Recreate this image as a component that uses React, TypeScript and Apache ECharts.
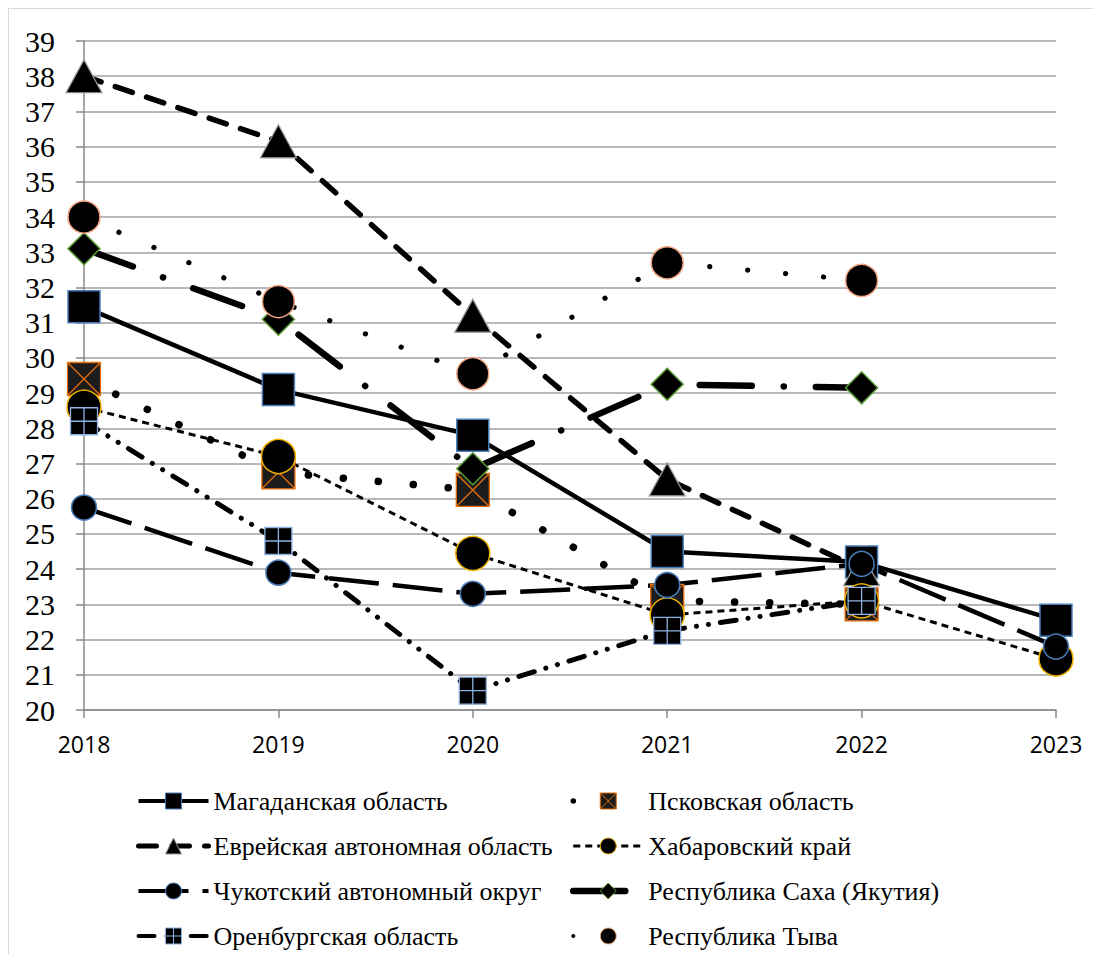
import React, { useEffect, useRef } from "react";
import * as echarts from "echarts";

const years = ["2018", "2019", "2020", "2021", "2022", "2023"];
const yTicks = { min: 20, max: 39, step: 1 };

const magadan = [31.45, 29.1, 27.8, 24.5, 24.2, 22.55];
const pskov = [29.4, 26.75, 26.25, 23.1, 23.0, null];
const evrei = [38.0, 36.15, 31.2, 26.55, 24.0, null];
const khabarovsk = [28.6, 27.2, 24.45, 22.7, 23.1, 21.45];
const chukotka = [25.75, 23.9, 23.3, 23.55, 24.15, 21.8];
const saha = [33.1, 31.1, 26.85, 29.25, 29.15, null];
const orenburg = [28.2, 24.8, 20.55, 22.25, 23.1, null];
const tyva = [34.0, 31.6, 29.55, 32.7, 32.2, null];

const names = {
  magadan: "Магаданская область",
  pskov: "Псковская область",
  evrei: "Еврейская автономная область",
  khabarovsk: "Хабаровский край",
  chukotka: "Чукотский автономный округ",
  saha: "Республика Саха (Якутия)",
  orenburg: "Оренбургская область",
  tyva: "Республика Тыва",
};

const SQUARE_X = "path://M0,0L10,0L10,10L0,10Z M0,0L10,10 M10,0L0,10";
const SQUARE_PLUS = "path://M0,0L10,0L10,10L0,10Z M5,0L5,10 M0,5L10,5";

function mk(name: string, data: (number | null)[], o: any) {
  return {
    name,
    type: "line",
    data,
    symbol: o.symbol,
    symbolSize: o.size,
    showSymbol: true,
    showAllSymbol: true,
    lineStyle: { color: "#000", width: o.width, type: o.dash, cap: o.cap || "butt", join: "round" },
    itemStyle: { color: o.fill || "#000", borderColor: o.border, borderWidth: o.bw || 1.5 },
    emphasis: { disabled: true },
  };
}

export default function App() {
  const ref = useRef<HTMLDivElement>(null);
  useEffect(() => {
    if (!ref.current) return;
    const chart = echarts.init(ref.current, null, { renderer: "svg" });
    const series = [
      mk(names.magadan, magadan, { symbol: "rect", size: 32, width: 4.5, dash: "solid", border: "#4a7ebb" }),
      mk(names.pskov, pskov, { symbol: SQUARE_X, size: 33, width: 7.5, dash: [0.1, 35], cap: "round", fill: "#1c1c1c", border: "#e46c0a", bw: 1.3 }),
      mk(names.evrei, evrei, { symbol: "triangle", size: [36, 33], width: 5.5, dash: [18, 15], cap: "round", border: "#9a9a9a", bw: 1.2 }),
      mk(names.khabarovsk, khabarovsk, { symbol: "circle", size: 34, width: 3, dash: [7, 5], border: "#f0b000" }),
      mk(names.chukotka, chukotka, { symbol: "circle", size: 25, width: 4.5, dash: [50, 14], border: "#4a7ebb" }),
      mk(names.saha, saha, { symbol: "diamond", size: 32, width: 6.5, dash: [52, 32, 0.1, 32], cap: "round", border: "#5a9a35" }),
      mk(names.orenburg, orenburg, { symbol: SQUARE_PLUS, size: 27, width: 5, dash: [16, 12, 0.1, 12, 0.1, 12], cap: "round", border: "#8db3e2", bw: 1.3 }),
      mk(names.tyva, tyva, { symbol: "circle", size: 32, width: 5.2, dash: [0.1, 38], cap: "round", border: "#f4a582" }),
    ];
    const legendCommon = {
      orient: "vertical",
      top: 779,
      height: 166,
      padding: 0,
      itemWidth: 70,
      itemHeight: 20,
      itemGap: 19,
      selectedMode: false,
      textStyle: { fontFamily: "Liberation Serif", fontSize: 26, color: "#000", lineHeight: 26 },
    };
    chart.setOption({
      animation: false,
      backgroundColor: "#fff",
      grid: { left: 75, top: 32, width: 972, height: 669 },
      xAxis: {
        type: "category",
        data: years,
        boundaryGap: false,
        axisLine: { lineStyle: { color: "#888", width: 1.5 } },
        axisTick: { show: true, length: 8, lineStyle: { color: "#888", width: 1.5 } },
        axisLabel: { fontFamily: "Open Sans", fontSize: 23, color: "#000", margin: 22 },
        splitLine: { show: false },
      },
      yAxis: {
        type: "value",
        min: yTicks.min,
        max: yTicks.max,
        interval: yTicks.step,
        axisLine: { show: true, lineStyle: { color: "#888", width: 1.5 } },
        axisTick: { show: true, length: 8, lineStyle: { color: "#888", width: 1.5 } },
        axisLabel: { fontFamily: "Liberation Serif", fontSize: 30, color: "#000", margin: 29 },
        splitLine: { lineStyle: { color: "#a0a0a0", width: 1.5 } },
      },
      legend: [
        {
          ...legendCommon,
          left: 127,
          data: [
            { name: names.magadan, lineStyle: { width: 4 }, itemStyle: { borderWidth: 1 } },
            { name: names.evrei, lineStyle: { width: 5 }, itemStyle: { borderWidth: 1 } },
            { name: names.chukotka, lineStyle: { width: 4 }, itemStyle: { borderWidth: 1 } },
            { name: names.orenburg, lineStyle: { width: 4 }, itemStyle: { borderWidth: 1 } },
          ],
        },
        {
          ...legendCommon,
          left: 561,
          data: [
            { name: names.pskov, lineStyle: { width: 5.5 }, itemStyle: { borderWidth: 1 } },
            { name: names.khabarovsk, lineStyle: { width: 3 }, itemStyle: { borderWidth: 1 } },
            { name: names.saha, lineStyle: { width: 6.5 }, itemStyle: { borderWidth: 1 } },
            { name: names.tyva, lineStyle: { width: 4 }, itemStyle: { borderWidth: 1 } },
          ],
        },
      ],
      series,
    });
    return () => chart.dispose();
  }, []);
  return (
    <div style={{ width: 1092, height: 946, borderTop: "1px solid #d9d9d9", borderLeft: "1px solid #d9d9d9", boxSizing: "border-box" }}>
      <div ref={ref} style={{ width: 1091, height: 945 }} />
    </div>
  );
}
